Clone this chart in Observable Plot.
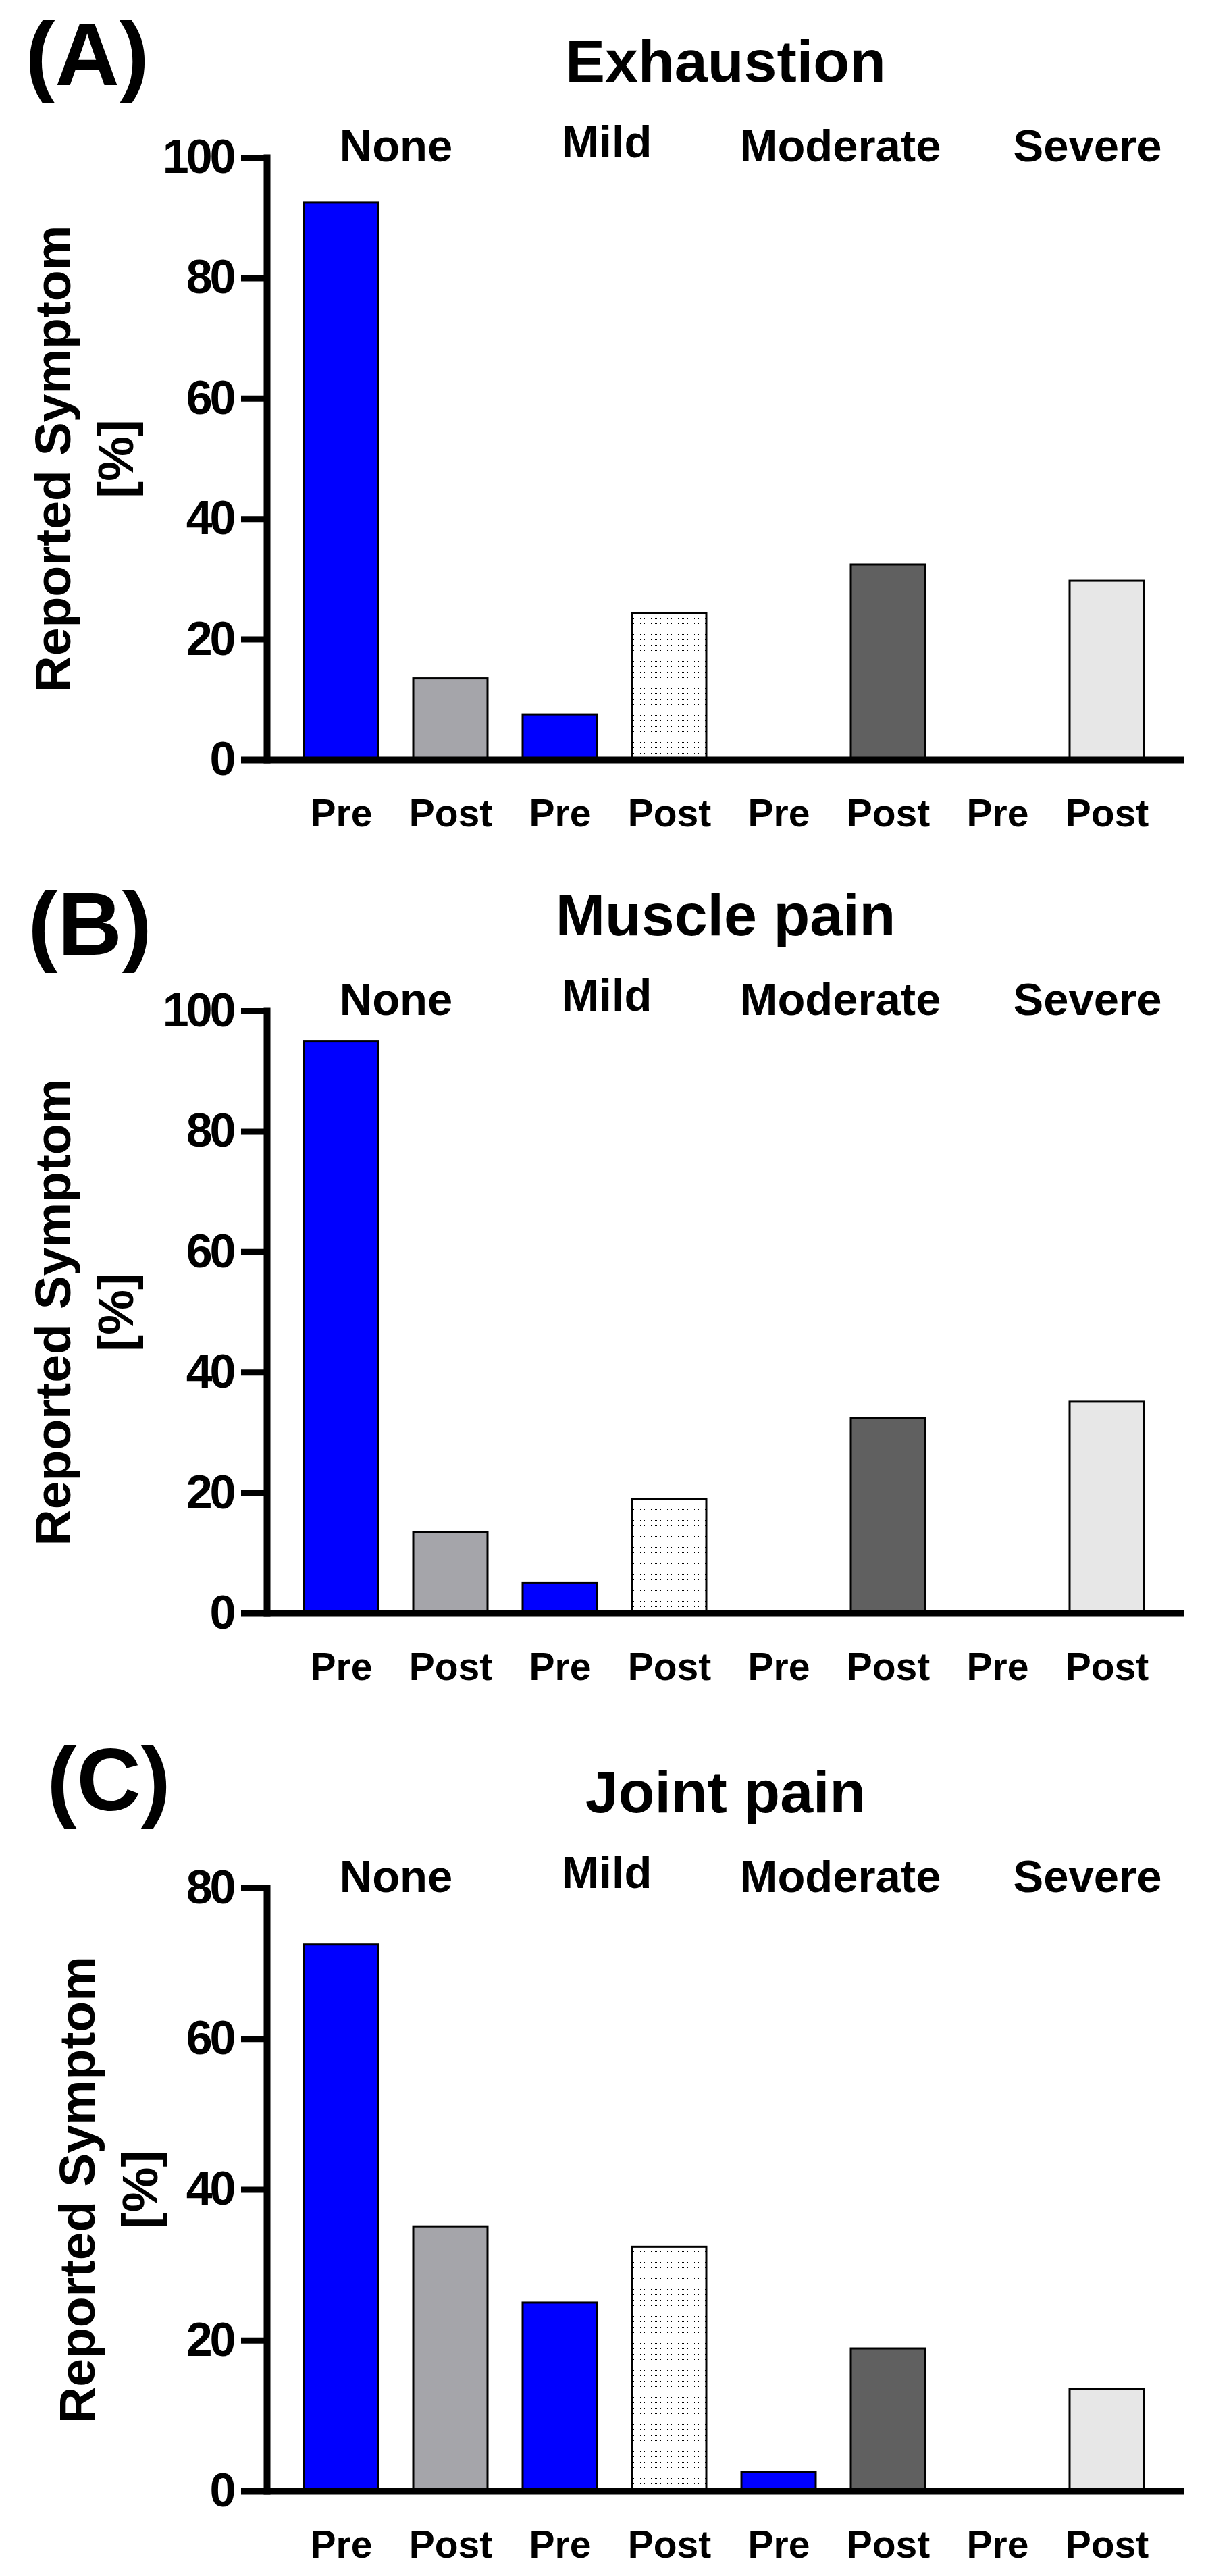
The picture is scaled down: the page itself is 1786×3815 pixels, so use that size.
<!DOCTYPE html>
<html><head><meta charset="utf-8">
<script src="https://cdn.jsdelivr.net/npm/d3@7"></script>
<script src="https://cdn.jsdelivr.net/npm/@observablehq/plot@0.6"></script>
<style>
body{margin:0;background:#fff;font-family:"Liberation Sans",Arial,sans-serif;}
#chart{width:1786px;}
#chart svg{display:block;}
#chart g[aria-label="y-axis tick label"] text{letter-spacing:-4px;}
</style></head><body>
<svg width="0" height="0" style="position:absolute">
<defs><pattern id="dots" width="8" height="8" patternUnits="userSpaceOnUse">
<rect width="8" height="8" fill="#ffffff"/>
<rect x="2" y="3" width="1" height="1" fill="#000"/><rect x="4" y="3" width="1" height="1" fill="#000"/>
</pattern></defs></svg>
<div id="chart"></div>
<script>
const severity = ["None", "Mild", "Moderate", "Severe"];
const timepoints = ["Pre", "Post"];
const exhaustionPre = [92.5, 7.5, 0, 0];
const exhaustionPost = [13.5, 24.3, 32.4, 29.7];
const musclePainPre = [95.0, 5.0, 0, 0];
const musclePainPost = [13.5, 18.9, 32.4, 35.1];
const jointPainPre = [72.5, 25.0, 2.5, 0];
const jointPainPost = [35.1, 32.4, 18.9, 13.5];
const yTicksAB = [0, 20, 40, 60, 80, 100];
const yTicksC = [0, 20, 40, 60, 80];
const yLabel = "Reported Symptom\n[%]";

// styling / layout (not data)
const colorDomain = ["Pre", "None|Post", "Mild|Post", "Moderate|Post", "Severe|Post"];
const colorRange = ["#0000FF", "#A5A5AA", "url(#dots)", "#606060", "#E7E7E7"];
const headerNudgeX = {None: 0, Mild: -12, Moderate: 10, Severe: 52};
const headerNudgeY = {None: 0, Mild: -6, Moderate: 0, Severe: 0};

const panels = [
  {letter: "(A)", title: "Exhaustion", pre: exhaustionPre, post: exhaustionPost, yMax: 100, ticks: yTicksAB,
   height: 1264, top: 233, zero: 1125, letterDx: -358, letterDy: -108, titleDy: -113, labelDx: -275},
  {letter: "(B)", title: "Muscle pain", pre: musclePainPre, post: musclePainPost, yMax: 100, ticks: yTicksAB,
   height: 1299, top: 233, zero: 1125, letterDx: -354, letterDy: -84, titleDy: -113, labelDx: -275},
  {letter: "(C)", title: "Joint pain", pre: jointPainPre, post: jointPainPost, yMax: 80, ticks: yTicksC,
   height: 1252, top: 233, zero: 1126, letterDx: -326, letterDy: -116, titleDy: -113, labelDx: -239}
];

const chart = document.getElementById("chart");
for (const p of panels) {
  const data = severity.flatMap((s, i) => timepoints.map(t => ({
    severity: s, time: t, key: s + "|" + t, value: t === "Pre" ? p.pre[i] : p.post[i]
  })));
  const headerMarks = severity.map(s => Plot.text([s], {
    x: () => s + "|Pre", text: d => d, dx: 81 + headerNudgeX[s], dy: 5 + headerNudgeY[s],
    frameAnchor: "top", lineAnchor: "bottom", fontSize: 67, fontWeight: "bold"
  }));
  const plot = Plot.plot({
    width: 1786,
    height: p.height,
    marginTop: p.top,
    marginBottom: p.height - p.zero,
    marginLeft: 395,
    marginRight: 33,
    style: {fontFamily: "'Liberation Sans', Arial, sans-serif", fontWeight: "bold", background: "#ffffff", color: "#000"},
    x: {domain: data.map(d => d.key), range: [422.85, 1721.15], paddingInner: 0.32, paddingOuter: 0.16},
    y: {domain: [0, p.yMax]},
    color: {type: "ordinal", domain: colorDomain, range: colorRange},
    marks: [
      Plot.barY(data, {x: "key", y: "value", fill: d => d.time === "Pre" ? "Pre" : d.key, stroke: "#000", strokeWidth: 3}),
      Plot.axisY({ticks: p.ticks, tickSize: 38, tickPadding: 12, strokeWidth: 9, fontSize: 70, fontWeight: "bold", label: null, tickFormat: d => String(d)}),
      Plot.axisX({tickSize: 0, tickPadding: 58, fontSize: 57, fontWeight: "bold", label: null, tickFormat: k => k.split("|")[1]}),
      Plot.frame({anchor: "left", strokeWidth: 10, strokeLinecap: "square"}),
      Plot.ruleY([0], {strokeWidth: 10, insetLeft: -38}),
      ...headerMarks,
      Plot.text([p.title], {text: d => d, frameAnchor: "top", textAnchor: "middle", lineAnchor: "bottom", dy: p.titleDy, fontSize: 88, fontWeight: "bold"}),
      Plot.text([p.letter], {text: d => d, frameAnchor: "top-left", textAnchor: "start", lineAnchor: "bottom", dx: p.letterDx, dy: p.letterDy, fontSize: 132, fontWeight: "bold"}),
      Plot.text([yLabel], {text: d => d, frameAnchor: "left", textAnchor: "middle", rotate: -90, dx: p.labelDx, lineAnchor: "middle", lineHeight: 1.24, fontSize: 75, fontWeight: "bold"})
    ]
  });
  chart.appendChild(plot);
}
</script>
</body></html>
